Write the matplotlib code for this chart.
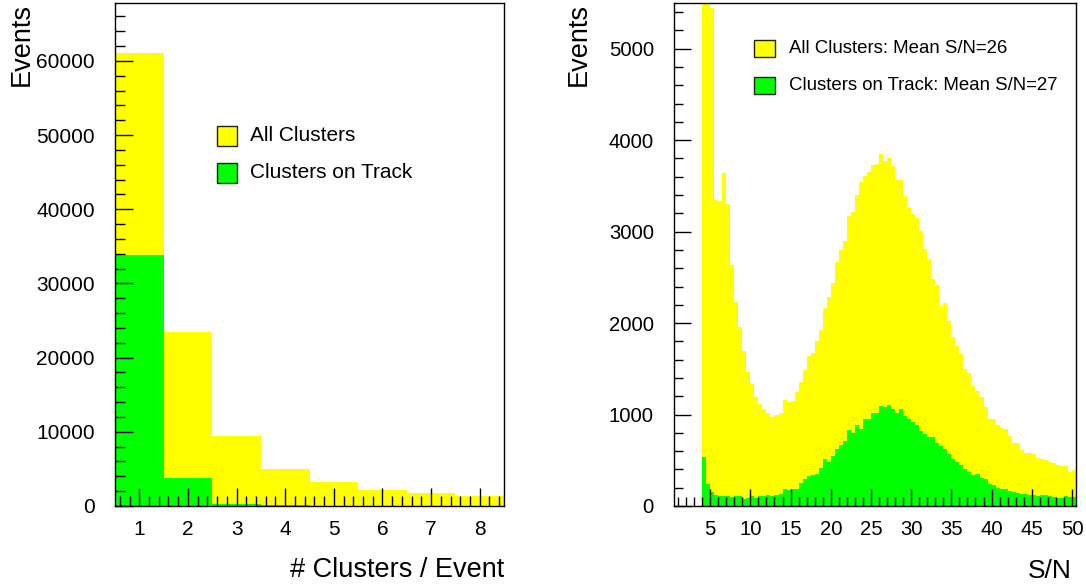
import numpy as np
import matplotlib
matplotlib.use('Agg')
import matplotlib.pyplot as plt
from matplotlib.patches import Rectangle
from matplotlib.ticker import MultipleLocator

plt.rcParams['font.family'] = ['Liberation Sans', 'DejaVu Sans']

# cluster multiplicity per event
n_clusters = [1, 2, 3, 4, 5, 6, 7, 8]
mult_all = [61080, 23400, 9500, 5010, 3210, 2220, 1720, 1280]
mult_track = [33830, 3800, 300, 120, 60, 35, 20, 10]

# signal-to-noise spectrum, 0.5 wide bins starting at S/N = 4
sn_first_edge = 4.0
sn_bin_width = 0.5
sn_all = [5530, 5510, 5440, 3350, 3330, 3640, 3300, 2640, 2230, 1960,
          1700, 1470, 1330, 1190, 1120, 1060, 1020, 975, 995, 1017,
          1156, 1138, 1150, 1247, 1360, 1490, 1645, 1675, 1806, 1925,
          2161, 2288, 2442, 2672, 2800, 2902, 3173, 3220, 3403, 3538,
          3604, 3648, 3732, 3740, 3853, 3768, 3805, 3715, 3567, 3567,
          3390, 3260, 3188, 3144, 3010, 2815, 2695, 2480, 2416, 2190,
          2216, 2025, 1843, 1752, 1657, 1499, 1456, 1317, 1255, 1193,
          1083, 955, 950, 890, 855, 838, 765, 692, 692, 608,
          578, 578, 564, 524, 517, 500, 480, 473, 448, 436,
          432, 372, 397]
sn_track = [535, 243, 148, 115, 104, 104, 104, 97, 104, 104,
            79, 86, 104, 86, 104, 104, 115, 104, 122, 126,
            181, 170, 181, 188, 254, 290, 323, 334, 353, 415,
            517, 480, 542, 627, 663, 707, 827, 802, 882, 846,
            948, 948, 1021, 1021, 1091, 1083, 1109, 1065, 1021, 1058,
            981, 948, 918, 882, 816, 791, 754, 754, 692, 655,
            627, 572, 510, 480, 451, 408, 370, 342, 353, 309,
            290, 243, 232, 195, 188, 181, 162, 151, 140, 129,
            126, 122, 115, 111, 118, 115, 104, 93, 86, 90,
            104, 100, 93]

labels_left = ['All Clusters', 'Clusters on Track']
labels_right = ['All Clusters: Mean S/N=26', 'Clusters on Track: Mean S/N=27']

yellow = '#ffff00'
green = '#00ff00'

fig = plt.figure(figsize=(10.86, 5.87), dpi=100)
ax1 = fig.add_axes([0.1059, 0.138, 0.3582, 0.8569])
ax2 = fig.add_axes([0.6206, 0.138, 0.3702, 0.8569])


def style_axis(ax, labelsize):
    for side in ['left', 'bottom', 'top', 'right']:
        ax.spines[side].set_linewidth(1.0)
    ax.tick_params(which='both', direction='in', top=False, right=False,
                   width=1.0, labelsize=labelsize)
    ax.tick_params(axis='y', which='both', pad=14.5)
    ax.tick_params(axis='x', which='both', pad=10)


def draw_key(ax, x, ys, w, h, colors, labels, size):
    for y, c, lab in zip(ys, colors, labels):
        ax.add_patch(Rectangle((x, y), w, h, transform=ax.transAxes,
                               facecolor=c, edgecolor='#222222', lw=1.0,
                               clip_on=False))
        ax.text(x + w + 0.034, y + h / 2, lab, transform=ax.transAxes,
                fontsize=size, va='center', ha='left')


# left: clusters per event
ax1.bar(n_clusters, mult_all, width=1.0, color=yellow, linewidth=0)
ax1.bar(n_clusters, mult_track, width=1.0, color=green, linewidth=0)
ax1.set_xlim(0.5, 8.5)
ax1.set_ylim(0, 67800)
ax1.xaxis.set_major_locator(MultipleLocator(1))
ax1.xaxis.set_minor_locator(MultipleLocator(0.2))
ax1.yaxis.set_major_locator(MultipleLocator(10000))
ax1.yaxis.set_minor_locator(MultipleLocator(2000))
style_axis(ax1, 15)
ax1.tick_params(axis='both', which='major', length=13)
ax1.tick_params(axis='both', which='minor', length=7)
ax1.set_xlabel('# Clusters / Event', fontsize=19.5, loc='right')
ax1.xaxis.set_label_coords(1.0, -0.102)
ax1.set_ylabel('Events', fontsize=19.5, loc='top')
ax1.yaxis.set_label_coords(-0.207, 1.0)
draw_key(ax1, 0.2622, [0.7157, 0.643], 0.0514, 0.0398,
         [yellow, green], labels_left, 15)

# right: S/N distribution
edges = sn_first_edge + sn_bin_width * np.arange(len(sn_all) + 1)
ax2.stairs(sn_all, edges, fill=True, color=yellow, linewidth=0)
ax2.stairs(sn_track, edges, fill=True, color=green, linewidth=0)
ax2.set_xlim(0.5, 50.5)
ax2.set_ylim(0, 5500)
ax2.xaxis.set_major_locator(MultipleLocator(5))
ax2.xaxis.set_minor_locator(MultipleLocator(1))
ax2.yaxis.set_major_locator(MultipleLocator(1000))
ax2.yaxis.set_minor_locator(MultipleLocator(200))
style_axis(ax2, 14.6)
ax2.tick_params(axis='both', which='major', length=12.5)
ax2.tick_params(axis='both', which='minor', length=6.5)
ax2.set_xlabel('S/N', fontsize=19, loc='right')
ax2.xaxis.set_label_coords(0.99, -0.105)
ax2.set_ylabel('Events', fontsize=19.5, loc='top')
ax2.yaxis.set_label_coords(-0.205, 1.0)
draw_key(ax2, 0.199, [0.8926, 0.819], 0.0522, 0.0338,
         [yellow, green], labels_right, 13.4)

fig.savefig('out.png', dpi=100)
